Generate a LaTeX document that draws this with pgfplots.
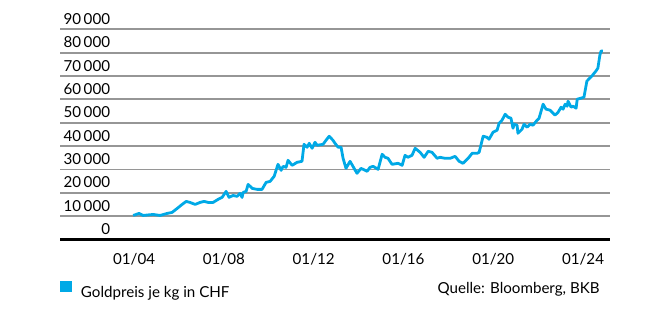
\documentclass[border=0pt]{standalone}
\usepackage{pgfplots}
\pgfplotsset{compat=1.18}
\usepackage{fontspec}
\setmainfont{Lato}
\definecolor{goldblue}{RGB}{0,169,230}
\definecolor{gridgrey}{RGB}{150,150,150}
\begin{document}
\fontsize{7.6}{9}\selectfont
\begin{tikzpicture}
\begin{axis}[
  at={(0,0)}, anchor=south west,
  scale only axis,
  width=275bp, height=105.1bp,
  xmin=2000.70, xmax=2025.20,
  ymin=0, ymax=90000,
  axis line style={draw=none},
  major tick length=0pt,
  xtick={2004,2008,2012,2016,2020,2024},
  xticklabels={01/04,01/08,01/12,01/16,01/20,01/24},
  xticklabel style={anchor=base, inner sep=0pt, yshift=-12.25bp},
  ytick={10000,20000,30000,40000,50000,60000,70000,80000,90000},
  extra y ticks={0},
  extra y tick style={grid style={black, line width=1.4bp}},
  yticklabel style={anchor=base east, inner sep=0pt, xshift=25.25bp, yshift=2.5bp},
  ymajorgrids,
  grid style={gridgrey, line width=0.9bp},
  scaled y ticks=false,
  /pgf/number format/assume math mode=true,
  /pgf/number format/.cd, 1000 sep={\,},
  /pgfplots/.cd,
  tick label style={font=\fontsize{7.6}{9}\selectfont},
  clip=false,
  legend style={at={(0,-0.1974)}, anchor=north west, draw=none, fill=none,
    inner sep=0pt, outer sep=0pt, column sep=4.5bp,
    nodes={inner sep=0pt, font=\fontsize{7.6}{9}\selectfont}},
  legend image code/.code={\path[fill=goldblue, draw=none, line width=0pt] (0bp,0.5bp) rectangle (6bp,6bp);},
]
\addplot[goldblue, line width=1.4bp, line join=round] coordinates {
(2003.96,10300) (2004.22,11160) (2004.40,10300) (2004.85,10730) (2005.16,10300)
(2005.47,11160) (2005.69,11590) (2005.92,13310) (2006.14,15020) (2006.32,16310)
(2006.49,15880) (2006.72,15020) (2006.94,15880) (2007.12,16310) (2007.30,15880)
(2007.52,15880) (2007.74,17170) (2007.92,18030) (2008.10,20600) (2008.23,18030)
(2008.41,18880) (2008.59,18460) (2008.72,19740) (2008.81,18030) (2008.86,20170)
(2008.99,20600) (2009.08,23610) (2009.26,21890) (2009.48,21460) (2009.70,21460)
(2009.88,24460) (2010.06,24890) (2010.24,27040) (2010.41,32190) (2010.55,29610)
(2010.64,31330) (2010.77,30900) (2010.86,33910) (2011.04,31760) (2011.26,33050)
(2011.48,33480) (2011.57,40770) (2011.71,39490) (2011.80,41200) (2011.93,39060)
(2012.06,41630) (2012.15,40340) (2012.42,40770) (2012.55,42490) (2012.69,44210)
(2012.86,42490) (2012.95,41200) (2013.09,39490) (2013.22,39490) (2013.31,34770)
(2013.44,30470) (2013.62,33480) (2013.75,31330) (2013.93,28330) (2014.11,30470)
(2014.38,29190) (2014.51,30900) (2014.65,31330) (2014.87,30040) (2015.05,36480)
(2015.18,35190) (2015.31,34770) (2015.49,32190) (2015.76,32620) (2015.94,31760)
(2016.07,36050) (2016.20,35190) (2016.38,36050) (2016.52,39060) (2016.74,37340)
(2016.92,35190) (2017.10,37770) (2017.27,37340) (2017.50,34770) (2017.63,35190)
(2017.85,34770) (2018.08,34770) (2018.30,35620) (2018.48,33480) (2018.65,32620)
(2018.88,34770) (2019.06,36910) (2019.28,36910) (2019.37,37340) (2019.55,44210)
(2019.72,43780) (2019.81,42920) (2019.99,45920) (2020.17,46780) (2020.26,49790)
(2020.39,51070) (2020.53,53650) (2020.66,52360) (2020.79,51930) (2020.88,47640)
(2020.93,49360) (2021.06,48930) (2021.10,45500) (2021.28,47210) (2021.37,49360)
(2021.51,48070) (2021.64,49360) (2021.77,48930) (2021.95,51070) (2022.04,51930)
(2022.22,57940) (2022.35,55800) (2022.53,55370) (2022.75,53220) (2022.89,54510)
(2023.02,56650) (2023.11,55800) (2023.20,57940) (2023.29,57080) (2023.33,59230)
(2023.47,56650) (2023.56,57080) (2023.69,56220) (2023.74,60090) (2023.91,60520)
(2024.04,60950) (2024.17,67810) (2024.30,69100) (2024.39,69960) (2024.57,72100)
(2024.66,73390) (2024.75,78970) (2024.80,80690) (2024.88,80690)
};
\addlegendentry{Goldpreis je kg in CHF}
\end{axis}
\node[anchor=base east, inner sep=0pt] at (270bp,-26.75bp) {Quelle: Bloomberg, BKB};
\path[use as bounding box] (-30bp,-35.25bp) rectangle (305bp,119.75bp);
\end{tikzpicture}
\end{document}
